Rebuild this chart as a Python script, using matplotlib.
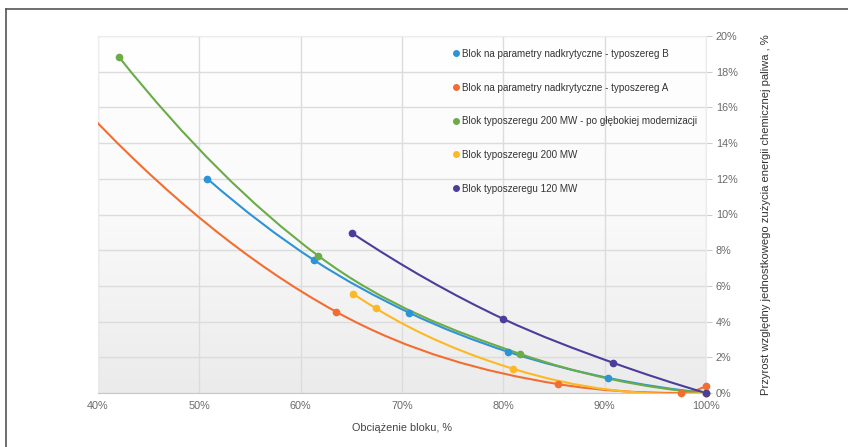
import numpy as np
import matplotlib
matplotlib.use("Agg")
import matplotlib.pyplot as plt
from matplotlib.path import Path
from matplotlib.patches import PathPatch
from matplotlib.lines import Line2D

plt.rcParams['font.family'] = ['Liberation Sans', 'DejaVu Sans']

# data (load %, relative increase %)
labels = ["Blok na parametry nadkrytyczne - typoszereg B",
          "Blok na parametry nadkrytyczne - typoszereg A",
          "Blok typoszeregu 200 MW - po głębokiej modernizacji",
          "Blok typoszeregu 200 MW",
          "Blok typoszeregu 120 MW"]
colors = ['#2e93d6', '#f36d31', '#6bab48', '#fdb825', '#4c3d9a']

blue_x = [50.8, 61.3, 70.7, 80.5, 90.3, 100.0]
blue_y = [12.0, 7.45, 4.5, 2.3, 0.85, 0.0]
orange_x = [38.0, 63.5, 85.4, 97.5, 100.0]
orange_y = [16.3, 4.55, 0.5, 0.0, 0.4]
green_x = [42.1, 61.7, 81.6, 100.0]
green_y = [18.8, 7.7, 2.2, 0.0]
yellow_x = [65.2, 67.4, 81.0, 100.0]
yellow_y = [5.55, 4.75, 1.35, 0.0]
purple_x = [65.1, 80.0, 90.8, 100.0]
purple_y = [8.95, 4.15, 1.7, 0.0]

series = [(blue_x, blue_y), (orange_x, orange_y), (green_x, green_y),
          (yellow_x, yellow_y), (purple_x, purple_y)]

xticks = [40, 50, 60, 70, 80, 90, 100]
yticks = [0, 2, 4, 6, 8, 10, 12, 14, 16, 18, 20]


def spline_path(xs, ys):
    # smooth cubic (hermite) curve through the points, drawn as bezier segments
    n = len(xs)
    h = [xs[i + 1] - xs[i] for i in range(n - 1)]
    d = [(ys[i + 1] - ys[i]) / h[i] for i in range(n - 1)]
    m = [0.0] * n
    for i in range(1, n - 1):
        if d[i - 1] * d[i] <= 0:
            m[i] = 0.0  # local min/max: flat
        else:
            m[i] = (d[i - 1] * h[i] + d[i] * h[i - 1]) / (h[i - 1] + h[i])
    m[0] = 2 * d[0] - m[1]
    m[-1] = 2 * d[-1] - m[-2]
    verts = [(xs[0], ys[0])]
    codes = [Path.MOVETO]
    for i in range(n - 1):
        verts += [(xs[i] + h[i] / 3, ys[i] + m[i] * h[i] / 3),
                  (xs[i + 1] - h[i] / 3, ys[i + 1] - m[i + 1] * h[i] / 3),
                  (xs[i + 1], ys[i + 1])]
        codes += [Path.CURVE4] * 3
    return Path(verts, codes)


fig = plt.figure(figsize=(8.48, 4.47), dpi=100)
ax = fig.add_axes([98 / 848, 1 - 393 / 447, 608 / 848, 357 / 447])

# soft gradient background, white on top, grey at the bottom
grad = np.linspace(0, 1, 256).reshape(-1, 1)
cmap = matplotlib.colors.LinearSegmentedColormap.from_list('bg', ['#ffffff', '#fafafa', '#ebebeb'])
ax.imshow(grad, extent=(40, 100, 0, 20), aspect='auto', cmap=cmap, zorder=0, origin='upper')

for (xs, ys), c in zip(series, colors):
    ax.add_patch(PathPatch(spline_path(xs, ys), facecolor='none', edgecolor=c, lw=1.5, zorder=3))
    mx = [x for x in xs if x >= 40]
    my = [y for x, y in zip(xs, ys) if x >= 40]
    ax.plot(mx, my, 'o', ms=4.5, color=c, zorder=4, clip_on=False)

ax.set_xlim(40, 100)
ax.set_ylim(0, 20)
ax.set_xticks(xticks)
ax.set_xticklabels([f"{v}%" for v in xticks])
ax.set_yticks(yticks)
ax.set_yticklabels([f"{v}%" for v in yticks])
ax.yaxis.tick_right()
ax.grid(True, color='#dcdcdc', lw=1, zorder=1)
ax.set_axisbelow(True)
ax.tick_params(axis='x', length=0, pad=6, labelsize=7.8, labelcolor='#6a6a6a')
ax.tick_params(axis='y', length=4, width=0.8, color='#cccccc', pad=3, labelsize=7.8, labelcolor='#6a6a6a')
for s in ['top', 'left', 'right']:
    ax.spines[s].set_color('#ececec')
ax.spines['bottom'].set_color('#c8c8c8')

ax.set_xlabel("Obciążenie bloku, %", fontsize=7.8, color='#444444')
ax.xaxis.set_label_coords(0.5, -0.085)
ax.yaxis.set_label_position('right')
ax.set_ylabel("Przyrost względny jednostkowego zużycia energii chemicznej paliwa , %",
              fontsize=8.1, color='#333333')
ax.yaxis.set_label_coords(1.09, 0.5)

handles = [Line2D([], [], ls='none', marker='o', ms=4, color=c) for c in colors]
fig.legend(handles, labels, loc='upper left', bbox_to_anchor=(449 / 848, 1 - 45 / 447),
           frameon=False, fontsize=7.1, labelspacing=2.4, handlelength=0.6,
           handletextpad=0.3, labelcolor='#333333', borderaxespad=0)

# outer frame of the picture
fig.add_artist(Line2D([6 / 848, 1], [1 - 8.5 / 447, 1 - 8.5 / 447], color='#555555', lw=1.2))
fig.add_artist(Line2D([6 / 848, 6 / 848], [0, 1 - 8.5 / 447], color='#555555', lw=1.2))

fig.savefig("out.png", dpi=100)
